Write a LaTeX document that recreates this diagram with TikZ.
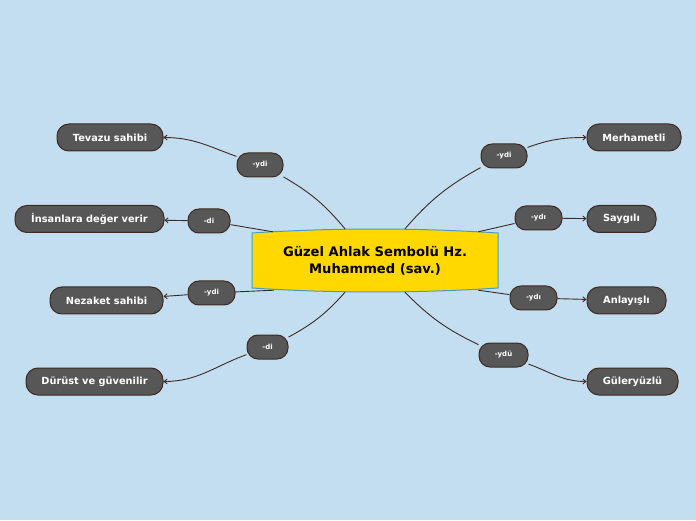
\documentclass[tikz,border=0pt]{standalone}
\usepackage{fontspec}
\setmainfont{DejaVu Sans}
\usetikzlibrary{arrows.meta}
\definecolor{bg}{RGB}{196,222,241}
\definecolor{edge}{RGB}{62,42,34}
\definecolor{leaffill}{RGB}{87,87,87}
\definecolor{cfill}{RGB}{255,216,0}
\definecolor{cborder}{RGB}{70,155,205}
\begin{document}
\begin{tikzpicture}[x=1pt,y=1pt,
  leaf/.style={rectangle, rounded corners=12pt, draw=edge, line width=1pt, fill=leaffill, text=white,
    font=\bfseries\fontsize{9.8}{11}\selectfont, minimum height=27pt, inner xsep=0pt},
  tag/.style={rectangle, rounded corners=11pt, draw=edge, line width=1pt, fill=leaffill, text=white,
    font=\bfseries\fontsize{7}{8}\selectfont, minimum height=24pt, inner xsep=0pt},
  conn/.style={draw=edge, line width=0.9pt},
  arr/.style={conn, -{Straight Barb[length=3pt,width=5pt]}}]
\fill[bg] (0,0) rectangle (696,520);
\useasboundingbox (0,0) rectangle (696,520);

% centre shape
\path[draw=cborder, fill=cfill, line width=1pt]
  (252,287) .. controls (334,292.3) and (416,292.3) .. (498,287) -- (498,232)
  .. controls (416,226.7) and (334,226.7) .. (252,232) -- cycle;
\node[minimum width=246pt, minimum height=63pt, inner sep=0pt, align=center,
  font=\bfseries\fontsize{13.1}{17}\selectfont] (c) at (375,259.5)
  {Güzel Ahlak Sembolü Hz.\\Muhammed (sav.)};

% leaves
\node[leaf, minimum width=106pt] (l1) at (110,382.5) {Tevazu sahibi};
\node[leaf, minimum width=149pt] (l2) at (89.5,301) {İnsanlara değer verir};
\node[leaf, minimum width=113pt] (l3) at (106.5,219.5) {Nezaket sahibi};
\node[leaf, minimum width=137pt] (l4) at (94.5,138.5) {Dürüst ve güvenilir};
\node[leaf, minimum width=94pt] (r1) at (634,382.5) {Merhametli};
\node[leaf, minimum width=69pt] (r2) at (621.5,301) {Saygılı};
\node[leaf, minimum width=79pt] (r3) at (626.5,219.5) {Anlayışlı};
\node[leaf, minimum width=91pt] (r4) at (632.5,138.5) {Güleryüzlü};

% tags
\node[tag, minimum width=46pt] (a1) at (260,355) {-ydi};
\node[tag, minimum width=42pt] (a2) at (209,299) {-di};
\node[tag, minimum width=47pt] (a3) at (211.5,227) {-ydi};
\node[tag, minimum width=41pt] (a4) at (267.5,173) {-di};
\node[tag, minimum width=46pt] (b1) at (504,364) {-ydi};
\node[tag, minimum width=47pt] (b2) at (538.5,302) {-ydı};
\node[tag, minimum width=47pt] (b3) at (533.5,222) {-ydı};
\node[tag, minimum width=49pt] (b4) at (503.5,165) {-ydü};

% attachment points on the centre node
\coordinate (pa1) at ([xshift=-30pt]c.north);
\coordinate (pa2) at ([xshift=21pt,yshift=-3pt]c.north west);
\coordinate (pa3) at ([xshift=22pt,yshift=2pt]c.south west);
\coordinate (pa4) at ([xshift=-30pt]c.south);
\coordinate (pb1) at ([xshift=30pt]c.north);
\coordinate (pb2) at ([xshift=-20pt,yshift=-3pt]c.north east);
\coordinate (pb3) at ([xshift=-20pt,yshift=2pt]c.south east);
\coordinate (pb4) at ([xshift=30pt]c.south);

% centre -> tags
\draw[conn] (pa1) to[bend right=10] (a1);
\draw[conn] (pa2) -- (a2);
\draw[conn] (pa3) -- (a3);
\draw[conn] (pa4) to[bend left=10] (a4);
\draw[conn] (pb1) to[bend left=10] (b1);
\draw[conn] (pb2) -- (b2);
\draw[conn] (pb3) -- (b3);
\draw[conn] (pb4) to[bend right=10] (b4);

% tags -> leaves
\draw[arr] (a1) to[out=160,in=0] (l1);
\draw[arr] (a2) -- (l2);
\draw[arr] (a3) -- (l3);
\draw[arr] (a4) to[out=200,in=0] (l4);
\draw[arr] (b1) to[out=20,in=180] (r1);
\draw[arr] (b2) -- (r2);
\draw[arr] (b3) -- (r3);
\draw[arr] (b4) to[out=-20,in=180] (r4);
\end{tikzpicture}
\end{document}
